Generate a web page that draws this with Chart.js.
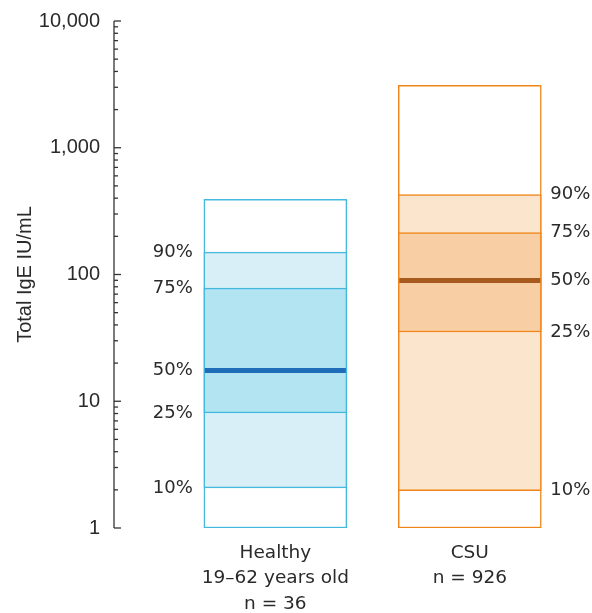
<!DOCTYPE html>
<html><head><meta charset="utf-8">
<script src="https://cdn.jsdelivr.net/npm/chart.js@4/dist/chart.umd.min.js"></script>
<style>html,body{margin:0;padding:0;background:#fff}#wrap{width:592px;height:613px;position:relative}</style>
</head><body><div id="wrap"><canvas id="c"></canvas></div>
<script>
// ---- data ----
const groups = ['Healthy', 'CSU'];
const groupLabels = [['Healthy', '19\u201362 years old', 'n = 36'], ['CSU', 'n = 926']];
const minVals = [1, 1];
const p10 = [2.07, 1.97];
const p25 = [8.1, 35.2];
const p50 = [17.5, 89.5];
const p75 = [78, 214];
const p90 = [150, 427];
const maxVals = [392, 3110];
const percentileNames = ['10%', '25%', '50%', '75%', '90%'];
const yTickValues = [1, 10, 100, 1000, 10000];
const yTickLabels = ['1', '10', '100', '1,000', '10,000'];

// ---- styles ----
const borderColors = ['#45b8de', '#f08519'];
const lightFill = ['#d8eff8', '#fce5cd'];
const iqrFill = ['#b3e4f2', '#f8cfa4'];
const medianColors = ['#1f6db8', '#a65a1e'];
const textColor = '#2a2a2a';

const mk = (lo, hi) => groups.map((g, i) => ({x: i, y: [lo[i], hi[i]]}));

const overlay = {
  id: 'overlay',
  afterDatasetsDraw(chart) {
    const ctx = chart.ctx, ys = chart.scales.y;
    const meta = chart.getDatasetMeta(0);
    ctx.save();
    groups.forEach((g, i) => {
      const el = meta.data[i];
      const half = el.width / 2;
      const ym = ys.getPixelForValue(p50[i]);
      ctx.strokeStyle = medianColors[i];
      ctx.lineWidth = 5;
      ctx.beginPath();
      ctx.moveTo(el.x - half + 1, ym);
      ctx.lineTo(el.x + half - 1, ym);
      ctx.stroke();
      const vals = [p10[i], p25[i], p50[i], p75[i], p90[i]];
      ctx.fillStyle = textColor;
      ctx.font = '18px "DejaVu Sans"';
      ctx.textBaseline = 'middle';
      ctx.textAlign = i === 0 ? 'right' : 'left';
      const lx = i === 0 ? el.x - half - 11 : el.x + half + 9;
      vals.forEach((v, k) => ctx.fillText(percentileNames[k], lx, ys.getPixelForValue(v)));
    });
    ctx.restore();
  },
  afterDraw(chart) {
    const ctx = chart.ctx, ys = chart.scales.y, a = chart.chartArea;
    ctx.save();
    ctx.strokeStyle = '#333';
    ctx.lineWidth = 1.3;
    const x0 = a.left;
    ctx.beginPath();
    ctx.moveTo(x0, ys.getPixelForValue(yTickValues[0]));
    ctx.lineTo(x0, ys.getPixelForValue(yTickValues[yTickValues.length - 1]));
    ctx.stroke();
    for (let d = 0; d < yTickValues.length; d++) {
      const base = yTickValues[d];
      const maxM = d === yTickValues.length - 1 ? 1 : 9;
      for (let m = 1; m <= maxM; m++) {
        const y = ys.getPixelForValue(base * m);
        const len = m === 1 ? 7 : 4;
        ctx.beginPath();
        ctx.moveTo(x0, y);
        ctx.lineTo(x0 + len, y);
        ctx.stroke();
      }
    }
    ctx.restore();
  }
};

const barCommon = {borderWidth: 1.5, borderSkipped: false, barThickness: 143, grouped: false};

new Chart(document.getElementById('c'), {
  type: 'bar',
  data: {
    datasets: [
      Object.assign({label: 'range', data: mk(minVals, maxVals), backgroundColor: '#ffffff', borderColor: borderColors, order: 3}, barCommon),
      Object.assign({label: '10-90', data: mk(p10, p90), backgroundColor: lightFill, borderColor: borderColors, order: 2}, barCommon),
      Object.assign({label: '25-75', data: mk(p25, p75), backgroundColor: iqrFill, borderColor: borderColors, order: 1}, barCommon)
    ]
  },
  options: {
    responsive: true,
    maintainAspectRatio: false,
    devicePixelRatio: 1,
    animation: false,
    layout: {padding: {top: 21, right: 25, bottom: 0, left: 0}},
    plugins: {legend: {display: false}, tooltip: {enabled: false}},
    scales: {
      x: {
        type: 'linear', min: -0.83, max: 1.5, offset: false, bounds: 'ticks',
        grid: {display: false, drawTicks: false, offset: false}, border: {display: false},
        afterBuildTicks: s => { s.ticks = groups.map((g, i) => ({value: i})); },
        afterFit: s => { s.height = 85; s.paddingLeft = 0; s.paddingRight = 0; },
        ticks: {
          autoSkip: false, maxRotation: 0, minRotation: 0, padding: 12,
          color: textColor, font: {family: '"DejaVu Sans"', size: 18.5, lineHeight: 1.38},
          callback: v => groupLabels[v]
        }
      },
      y: {
        type: 'logarithmic', min: 1, max: 10000,
        grid: {display: false, drawTicks: false}, border: {display: false},
        afterBuildTicks: s => { s.ticks = yTickValues.map(v => ({value: v, major: true})); },
        afterFit: s => { s.width = 114; s.paddingTop = 0; s.paddingBottom = 0; },
        ticks: {
          autoSkip: false, padding: 14, color: textColor,
          font: {family: '"Liberation Sans"', size: 20},
          callback: v => yTickLabels[yTickValues.indexOf(v)]
        },
        title: {display: true, text: 'Total IgE IU/mL', color: textColor,
          font: {family: '"Liberation Sans"', size: 20}, padding: {top: 13, bottom: 0}}
      }
    }
  },
  plugins: [overlay]
});
</script>
</body></html>
